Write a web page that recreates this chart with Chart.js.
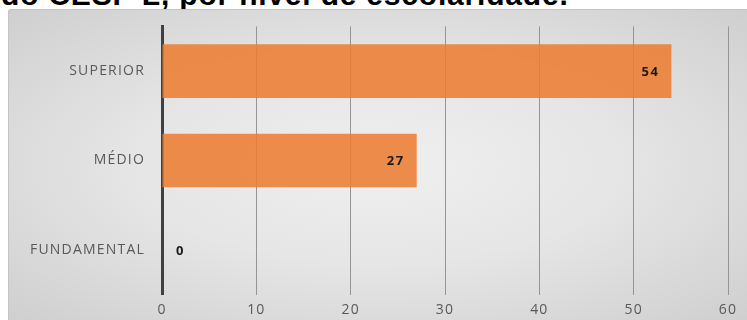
<!DOCTYPE html>
<html>
<head>
<meta charset="utf-8">
<script src="https://cdn.jsdelivr.net/npm/chart.js@4"></script>
<style>
  html, body { margin: 0; padding: 0; background: #fff; overflow: hidden; }
  body { width: 747px; height: 320px; position: relative; }
  #titulo {
    position: absolute; left: 1px; top: -20px;
    font: bold 30px "Liberation Sans", Arial, sans-serif;
    letter-spacing: 0.8px;
    line-height: 1; color: #000; white-space: nowrap;
  }
  #box {
    position: absolute; left: 8px; top: 9px; width: 739px; height: 311px;
    box-sizing: border-box; border: 1px solid #c4c4c4; border-right: none; border-bottom: none;
    border-radius: 3px 0 0 0; overflow: hidden;
    background: radial-gradient(ellipse at 50% 50%, #efefef 0%, #e6e6e6 45%, #cfcfcf 100%);
  }
  #box canvas { position: absolute; left: 0; top: -9px; }
</style>
</head>
<body>
<div id="titulo">do CESP L, por nível de escolaridade.</div>
<div id="box"><canvas id="myChart" width="738" height="319"></canvas></div>
<script>
var categorias = ["SUPERIOR", "MÉDIO", "FUNDAMENTAL"];
var valores = [54, 27, 0];
var xTicks = [0, 10, 20, 30, 40, 50, 60];

// wider letter spacing for the axis text
var espacamento = {
    id: "espacamento",
    beforeDraw: function (chart) { chart.ctx.letterSpacing = "1.2px"; }
};

// value labels: inside the bar end, or just past it when the bar is too short
var rotulos = {
    id: "rotulos",
    afterDatasetsDraw: function (chart) {
        var ctx = chart.ctx;
        var meta = chart.getDatasetMeta(0);
        ctx.save();
        ctx.letterSpacing = "1.5px";
        ctx.font = "bold 13px 'Open Sans', sans-serif";
        ctx.fillStyle = "#1a1a1a";
        ctx.textBaseline = "middle";
        meta.data.forEach(function (bar, i) {
            var txt = String(valores[i]);
            var w = ctx.measureText(txt).width;
            var largura = bar.x - bar.base;
            if (largura > w + 24) {
                ctx.textAlign = "right";
                ctx.fillText(txt, bar.x - 12, bar.y + 1);
            } else {
                ctx.textAlign = "left";
                ctx.fillText(txt, bar.x + 14, bar.y + 1);
            }
        });
        ctx.restore();
    }
};

new Chart("myChart", {
    type: "bar",
    data: {
        labels: categorias,
        datasets: [{
            data: valores,
            backgroundColor: "rgba(237,125,49,0.87)",
            borderWidth: 0,
            barPercentage: 0.6,
            categoryPercentage: 1
        }]
    },
    options: {
        indexAxis: "y",
        responsive: false,
        animation: false,
        layout: { padding: { top: 8, right: 19, bottom: 0, left: 0 } },
        plugins: { legend: { display: false }, tooltip: { enabled: false } },
        scales: {
            x: {
                min: 0,
                max: 60,
                afterBuildTicks: function (s) {
                    s.ticks = xTicks.map(function (v) { return { value: v }; });
                },
                afterFit: function (s) { s.height = 25; },
                grid: { color: "#959595", lineWidth: 1, drawTicks: false },
                border: { display: false },
                ticks: {
                    padding: 7,
                    color: "#595959",
                    font: { family: "'Open Sans', sans-serif", size: 14 }
                }
            },
            y: {
                afterFit: function (s) { s.width = 153; },
                grid: { display: false, drawTicks: false },
                border: { display: true, color: "#404040", width: 3 },
                ticks: {
                    padding: 17,
                    color: "#595959",
                    font: { family: "'Open Sans', sans-serif", size: 14 }
                }
            }
        }
    },
    plugins: [espacamento, rotulos]
});
</script>
</body>
</html>
